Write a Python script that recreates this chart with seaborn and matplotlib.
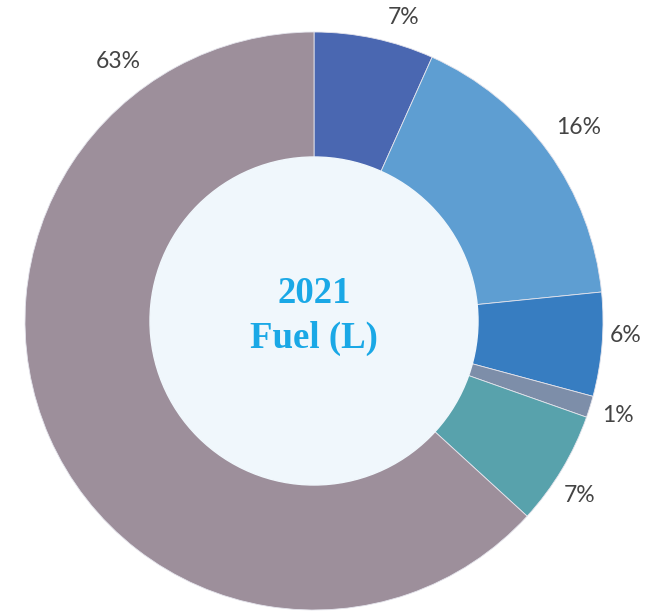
import matplotlib
matplotlib.use("Agg")
import matplotlib.pyplot as plt
import seaborn as sns
import numpy as np

sns.set_style("white")

categories = ["A", "B", "C", "D", "E", "F"]
values = [6.7, 16.7, 5.8, 1.2, 6.4, 63.2]
labels = ["7%", "16%", "6%", "1%", "7%", "63%"]
colors = ["#4a67b1", "#5e9ed2", "#377dc1", "#7d8ea9", "#58a2ac", "#9d8f9b"]
center_title = ["2021", "Fuel (L)"]

# label layout (radius as fraction of outer radius, angle shift from slice middle)
label_r = [1.095, 1.135, 1.08, 1.10, 1.10, 1.125]
label_shift = [-4.4, 0.3, 2.0, 0.0, -2.4, 0.0]

W, H = 647, 611
R = 289.0
cx, cy = 314, 290  # centre in px from bottom-left

fig = plt.figure(figsize=(W / 100, H / 100), dpi=100)
ax = fig.add_axes([0, 0, 1, 1])

inner = 164 / R
wedges, _ = ax.pie(values, colors=colors, startangle=90, counterclock=False,
                   radius=1.0, wedgeprops=dict(width=1 - inner + 0.01,
                                               edgecolor="#e4e4ec", linewidth=0.6))
ax.set_xlim(-cx / R, (W - cx) / R)
ax.set_ylim(-cy / R, (H - cy) / R)
ax.set_aspect("equal")
ax.axis("off")

circ = plt.Circle((0, 0), inner, color="#f0f7fc", zorder=3)
ax.add_patch(circ)

total = sum(values)
start = 90.0
for i, (v, lab) in enumerate(zip(values, labels)):
    span = 360.0 * v / total
    mid = start - span / 2 + label_shift[i]
    if i == len(values) - 1:
        mid = start - span + 37
    a = np.deg2rad(mid)
    r = label_r[i]
    ax.text(r * np.cos(a), r * np.sin(a), lab, ha="center", va="center",
            fontsize=16.5, color="#444444", family=["Lato", "DejaVu Sans"],
            fontweight="normal", zorder=5)
    start -= span

for txt, y in zip(center_title, [0.095, -0.06]):
    ax.text(0, y, txt, ha="center", va="center", fontsize=26.5,
            fontweight="bold", color="#1aa8e6",
            family=["Liberation Serif", "DejaVu Serif"], zorder=5)

fig.savefig("out.png", dpi=100)
